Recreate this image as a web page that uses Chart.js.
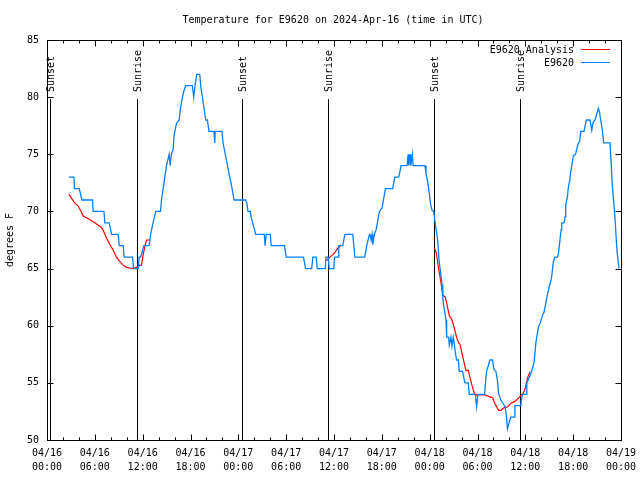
<!DOCTYPE html>
<html>
<head>
<meta charset="utf-8">
<script src="https://cdn.jsdelivr.net/npm/chart.js@4/dist/chart.umd.min.js"></script>
<style>
  body { margin: 0; background: #fff; }
  canvas { display: block; }
</style>
</head>
<body>
<canvas id="chart" width="640" height="480"></canvas>
<script>
// hours since 04/16 00:00 UTC
const blueHours = [2.75,3.38,3.45,4.05,4.38,5.72,5.78,7.14,7.26,7.8,8.1,8.93,9.06,9.56,9.68,10.73,10.85,11.44,11.55,11.75,12.15,12.8,13.0,13.3,13.65,14.23,14.36,14.57,14.78,14.99,15.32,15.45,15.6,15.82,15.95,16.24,16.57,16.74,16.99,17.2,17.41,18.24,18.4,18.57,18.78,19.16,19.28,19.49,19.66,19.91,20.12,20.32,20.62,20.95,21.04,21.1,21.95,22.08,22.5,22.92,23.17,23.46,24.92,25.08,25.21,25.5,25.6,25.8,26.0,26.17,27.26,27.35,27.5,28.0,28.13,29.8,30.0,32.18,32.43,33.2,33.35,33.77,33.9,34.9,35.0,35.27,35.4,35.98,36.06,36.55,36.6,37.1,37.36,38.36,38.61,39.86,40.11,40.45,40.53,40.65,40.78,40.86,41.07,41.28,41.49,41.7,42.03,42.2,42.45,43.37,43.62,44.12,44.3,44.41,45.16,45.3,45.38,45.55,45.63,45.84,45.92,47.42,47.54,47.75,47.96,48.1,48.3,48.5,48.67,49.0,49.1,49.21,49.38,49.55,49.65,49.75,49.88,50.05,50.13,50.38,50.46,50.67,50.8,50.96,51.08,51.21,51.38,51.6,51.71,52.13,52.3,52.43,52.84,52.97,53.72,53.89,54.05,54.89,55.0,55.14,55.35,55.56,55.89,56.05,56.31,56.5,56.64,56.93,57.48,57.6,57.76,57.95,58.18,58.6,58.69,59.44,59.5,59.65,60.1,60.19,60.69,60.9,61.11,61.32,61.65,61.9,62.15,62.35,62.57,62.8,63.07,63.28,63.4,63.52,63.7,64.03,64.15,64.25,64.36,64.49,64.57,64.86,64.99,65.07,65.28,65.41,65.57,65.7,65.9,66.03,66.3,66.4,66.6,66.8,66.96,67.37,67.5,67.66,68.12,68.33,68.5,68.75,68.95,69.16,69.3,69.45,69.66,69.83,70.62,70.79,70.91,71.1,71.26,71.38,71.51,71.68,71.76];
const blueTemps = [73,73,72,72,71,71,70,70,69,69,68,68,67,67,66,66,65,65,66,66,67,67,68,69,70,70,71,72,73,74,75,74,75,75.4,76.7,77.7,78,79,80,80.6,81,81,80,81,82,82,81,80,79.2,78,78,77,77,77,76,77,77,76,74.5,73,72.2,71,71,70.7,70,70,69.5,69,68.5,68,68,67,68,68,67,67,66,66,65,65,66,66,65,65,66,66,65,65,66,66,67,67,68,68,66,66,67,68,68,67.5,68,67.1,68,68.4,69.2,70,70.3,71,72,72,73,73,73.6,74,74,75,74,75,74,75,74,74,73.3,72.6,71.6,70.7,70.1,70,69.1,67.5,66.5,65.5,64.6,63.6,62.5,61.8,61.2,60.5,59,59,58.3,59,58.2,59,58.5,57.7,57,57,56,56,55.4,55,55,54,54,52.9,54,54,55,56,56.5,57,57,56.2,56,55.2,54.1,53.5,52.9,52.2,51,51.5,52,52,53,53,53.5,54,54,55,55.8,56.3,56.85,58.5,59.9,60.3,60.9,61.2,62,62.8,63.6,64.15,64.9,65.6,66,66,66.3,66.9,67.6,68.4,69,69,69.55,70.6,71.3,72.2,72.7,73.5,74.3,74.9,75,75.3,75.9,76.1,77,77,77.5,78,78,77.1,77.8,78,78.5,79,78.7,78,77.1,76,76,73.9,72.3,70.7,69.25,67.8,66.5,65.45,65];

// null marks a gap in the analysis series
const redHours = [2.75,3.09,3.51,3.92,4.22,4.55,5.18,5.8,6.43,6.84,7.14,7.47,7.89,8.3,8.72,9.14,9.56,9.98,10.4,10.8,11.23,11.65,11.85,12.06,12.27,12.48,12.9,
  13.5,
  35.0,35.5,36.0,36.5,36.9,
  37.5,
  48.59,48.79,49.0,49.13,49.3,49.5,49.62,49.96,50.13,50.46,50.8,51.09,51.38,51.63,51.8,52.05,52.34,52.55,52.84,53.05,53.3,53.59,53.8,54.96,55.47,55.9,56.18,56.64,56.93,57.35,57.76,58.18,58.73,59.23,59.73,59.98,60.27,60.57];
const redTemps = [71.52,71.14,70.7,70.47,70.06,69.6,69.36,69.1,68.8,68.6,68.2,67.65,67.1,66.6,66.0,65.6,65.3,65.1,65.05,65.0,65.1,65.3,65.3,66.2,66.9,67.5,67.5,
  null,
  65.69,66.0,66.3,66.8,67.06,
  null,
  66.77,66.5,65.6,64.9,64.3,63.4,62.7,62.5,62.0,60.9,60.5,59.8,59.0,58.5,58.4,57.6,56.7,56.1,56.1,55.5,54.8,54.1,53.94,53.94,53.8,53.7,53.2,52.6,52.6,52.83,52.9,53.2,53.4,53.73,54.1,54.5,55.4,55.98];

const sunHours = [0.41, 11.33, 24.5, 35.29, 48.58, 59.37];
const sunLabels = ['Sunset', 'Sunrise', 'Sunset', 'Sunrise', 'Sunset', 'Sunrise'];

const tickDates = ['04/16','04/16','04/16','04/16','04/17','04/17','04/17','04/17','04/18','04/18','04/18','04/18','04/19'];
const tickTimes = ['00:00','06:00','12:00','18:00','00:00','06:00','12:00','18:00','00:00','06:00','12:00','18:00','00:00'];

const seriesNames = ['E9620 Analysis', 'E9620'];
const seriesColors = ['#ff0000', '#0080ff'];

const FONT = '"DejaVu Sans Mono", monospace';

function pts(xs, ys) {
  return xs.map((x, i) => ({x: x, y: ys[i]}));
}

const decor = {
  id: 'decor',
  beforeDatasetsDraw(chart) {
    const ctx = chart.ctx, a = chart.chartArea, xs = chart.scales.x;
    ctx.save();
    ctx.strokeStyle = '#000';
    ctx.lineWidth = 1;
    ctx.fillStyle = '#000';
    ctx.font = '10px ' + FONT;
    sunHours.forEach((h, i) => {
      const px = Math.round(xs.getPixelForValue(h)) + 0.5;
      ctx.beginPath();
      ctx.moveTo(px, 99);
      ctx.lineTo(px, a.bottom);
      ctx.stroke();
      ctx.save();
      ctx.translate(px + 1, 92);
      ctx.rotate(-Math.PI / 2);
      ctx.textAlign = 'left';
      ctx.textBaseline = 'middle';
      ctx.fillText(sunLabels[i], 0, 0);
      ctx.restore();
    });
    ctx.restore();
  },
  afterDraw(chart) {
    const ctx = chart.ctx, a = chart.chartArea;
    const xs = chart.scales.x, ys = chart.scales.y;
    ctx.save();
    ctx.strokeStyle = '#000';
    ctx.lineWidth = 1;
    const L = Math.round(a.left) + 0.5, R = Math.round(a.right) + 0.5;
    const T = Math.round(a.top) + 0.5, B = Math.round(a.bottom) + 0.5;
    ctx.beginPath();
    // x ticks, inward, mirrored on top
    for (let h = 0; h <= 72; h += 2) {
      const px = Math.round(xs.getPixelForValue(h)) + 0.5;
      const len = h % 6 === 0 ? 6 : 3;
      ctx.moveTo(px, B); ctx.lineTo(px, B - len);
      ctx.moveTo(px, T); ctx.lineTo(px, T + len);
    }
    for (let v = 50; v <= 85; v += 5) {
      const py = Math.round(ys.getPixelForValue(v)) + 0.5;
      ctx.moveTo(L, py); ctx.lineTo(L + 6, py);
      ctx.moveTo(R, py); ctx.lineTo(R - 6, py);
    }
    ctx.stroke();
    ctx.strokeRect(L, T, R - L, B - T);

    ctx.fillStyle = '#000';
    ctx.font = '10px ' + FONT;
    ctx.textBaseline = 'alphabetic';
    ctx.textAlign = 'center';
    ctx.fillText('Temperature for E9620 on 2024-Apr-16 (time in UTC)', (a.left + a.right) / 2 - 1, 23);

    ctx.save();
    ctx.translate(13, 240);
    ctx.rotate(-Math.PI / 2);
    ctx.textAlign = 'center';
    ctx.fillText('degrees F', 0, 0);
    ctx.restore();

    // key
    const rows = [50, 63];
    seriesNames.forEach((name, i) => {
      ctx.textAlign = 'right';
      ctx.textBaseline = 'middle';
      ctx.fillStyle = '#000';
      ctx.fillText(name, 574, rows[i]);
      ctx.strokeStyle = seriesColors[i];
      ctx.beginPath();
      ctx.moveTo(581, rows[i] - 0.5);
      ctx.lineTo(610, rows[i] - 0.5);
      ctx.stroke();
    });
    ctx.restore();
  }
};

new Chart(document.getElementById('chart'), {
  type: 'line',
  data: {
    datasets: [
      {
        label: seriesNames[1],
        data: pts(blueHours, blueTemps),
        borderColor: seriesColors[1],
        borderWidth: 1.3,
        pointRadius: 0,
        tension: 0,
        fill: false
      },
      {
        label: seriesNames[0],
        data: pts(redHours, redTemps),
        borderColor: seriesColors[0],
        borderWidth: 1.2,
        pointRadius: 0,
        tension: 0,
        fill: false,
        spanGaps: false
      }
    ]
  },
  options: {
    responsive: false,
    animation: false,
    layout: { padding: { top: 40, right: 19, left: 0, bottom: 0 } },
    plugins: {
      legend: { display: false },
      title: { display: false },
      tooltip: { enabled: false }
    },
    scales: {
      x: {
        type: 'linear',
        min: 0,
        max: 72,
        grid: { display: false, drawTicks: false },
        border: { display: false },
        afterFit: s => { s.height = 40; s.paddingLeft = 0; s.paddingRight = 0; },
        ticks: {
          stepSize: 6,
          autoSkip: false,
          maxRotation: 0,
          padding: 7,
          color: '#000',
          font: { family: FONT, size: 10, lineHeight: 1.35 },
          callback: (v) => {
            const i = Math.round(v / 6);
            return [tickDates[i], tickTimes[i]];
          }
        }
      },
      y: {
        min: 50,
        max: 85,
        grid: { display: false, drawTicks: false },
        border: { display: false },
        afterFit: s => { s.width = 47; s.paddingTop = 0; s.paddingBottom = 0; },
        ticks: {
          stepSize: 5,
          padding: 8,
          color: '#000',
          font: { family: FONT, size: 10 }
        }
      }
    }
  },
  plugins: [decor]
});
</script>
</body>
</html>
